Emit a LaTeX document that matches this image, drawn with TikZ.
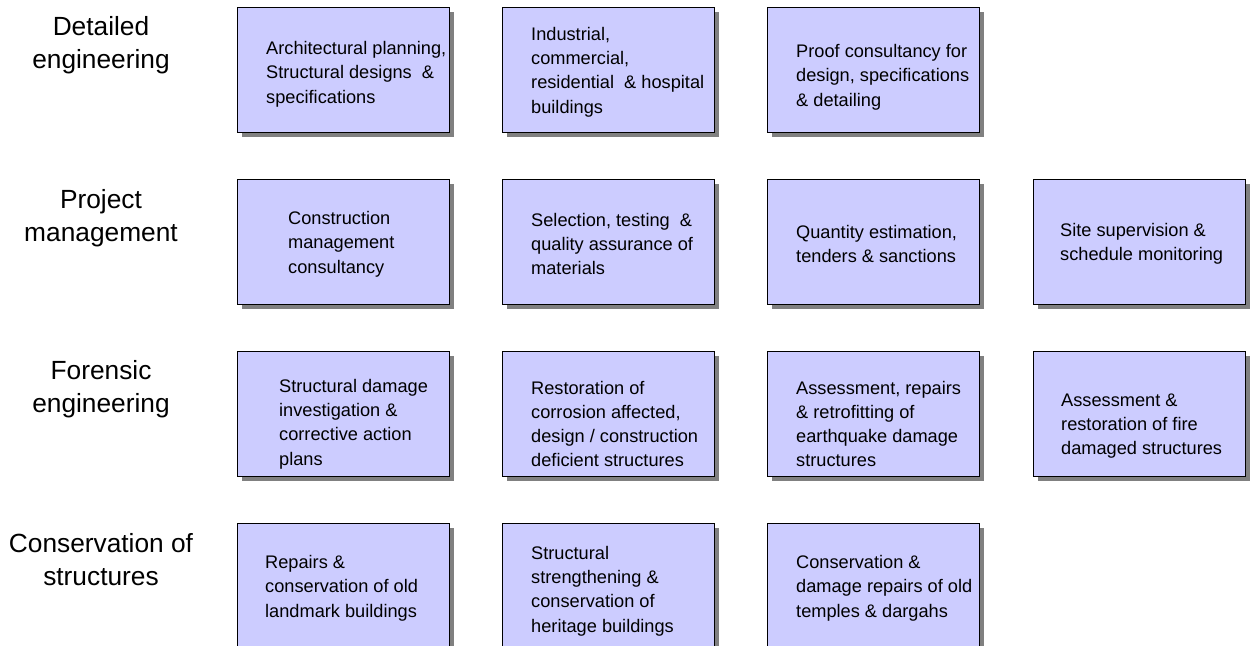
\documentclass[tikz,border=0pt]{standalone}
\usepackage{fontspec}
\setmainfont{Liberation Sans}
\usetikzlibrary{shadows}
\definecolor{boxfill}{HTML}{CCCCFF}
\tikzset{
  box/.style={draw=black, line width=1.4pt, fill=boxfill, minimum width=212pt, minimum height=125pt, inner sep=0pt, anchor=north west,
    drop shadow={shadow xshift=4.5pt, shadow yshift=-4.5pt, fill=black!50, opacity=1}},
  txt/.style={anchor=west, align=left, inner sep=0pt, font=\fontsize{18.2}{24.3}\selectfont},
  lab/.style={align=center, inner sep=0pt, font=\fontsize{26.3}{33}\selectfont}
}
\begin{document}
\begin{tikzpicture}[x=1pt,y=-1pt]
\useasboundingbox (0,0) rectangle (1252,645);
% labels
\node[lab] (l1) at (101,45) {Detailed\\engineering};
\node[lab] (l2) at (101,218) {Project\\management};
\node[lab] (l3) at (101,389) {Forensic\\engineering};
\node[lab] (l4) at (101,560) {Conservation of\\structures};
% row 1
\node[box] (b11) at (237,7) {};
\node[box] (b12) at (502,7) {};
\node[box] (b13) at (767,7) {};
\node[txt] (t11) at (266,74) {Architectural planning,\\Structural designs \ \&\\specifications};
\node[txt] (t12) at (531,72) {Industrial,\\commercial,\\residential \ \& hospital\\buildings};
\node[txt] (t13) at (796,77) {Proof consultancy for\\design, specifications\\\& detailing};
% row 2
\node[box] (b21) at (237,179) {};
\node[box] (b22) at (502,179) {};
\node[box] (b23) at (767,179) {};
\node[box] (b24) at (1033,179) {};
\node[txt] (t21) at (288,244) {Construction\\management\\consultancy};
\node[txt] (t22) at (531,244) {Selection, testing \ \&\\quality assurance of\\materials};
\node[txt] (t23) at (796,244) {Quantity estimation,\\tenders \& sanctions};
\node[txt] (t24) at (1060,244) {Site supervision \&\\schedule monitoring};
% row 3
\node[box] (b31) at (237,351) {};
\node[box] (b32) at (502,351) {};
\node[box] (b33) at (767,351) {};
\node[box] (b34) at (1033,351) {};
\node[txt] (t31) at (279,424) {Structural damage\\investigation \&\\corrective action\\plans};
\node[txt] (t32) at (531,424) {Restoration of\\corrosion affected,\\design / construction\\deficient structures};
\node[txt] (t33) at (796,424) {Assessment, repairs\\\& retrofitting of\\earthquake damage\\structures};
\node[txt] (t34) at (1061,426) {Assessment \&\\restoration of fire\\damaged structures};
% row 4
\node[box] (b41) at (237,523) {};
\node[box] (b42) at (502,523) {};
\node[box] (b43) at (767,523) {};
\node[txt] (t41) at (265,588) {Repairs \&\\conservation of old\\landmark buildings};
\node[txt] (t42) at (531,591) {Structural\\strengthening \&\\conservation of\\heritage buildings};
\node[txt] (t43) at (796,588) {Conservation \&\\damage repairs of old\\temples \& dargahs};
\end{tikzpicture}
\end{document}
